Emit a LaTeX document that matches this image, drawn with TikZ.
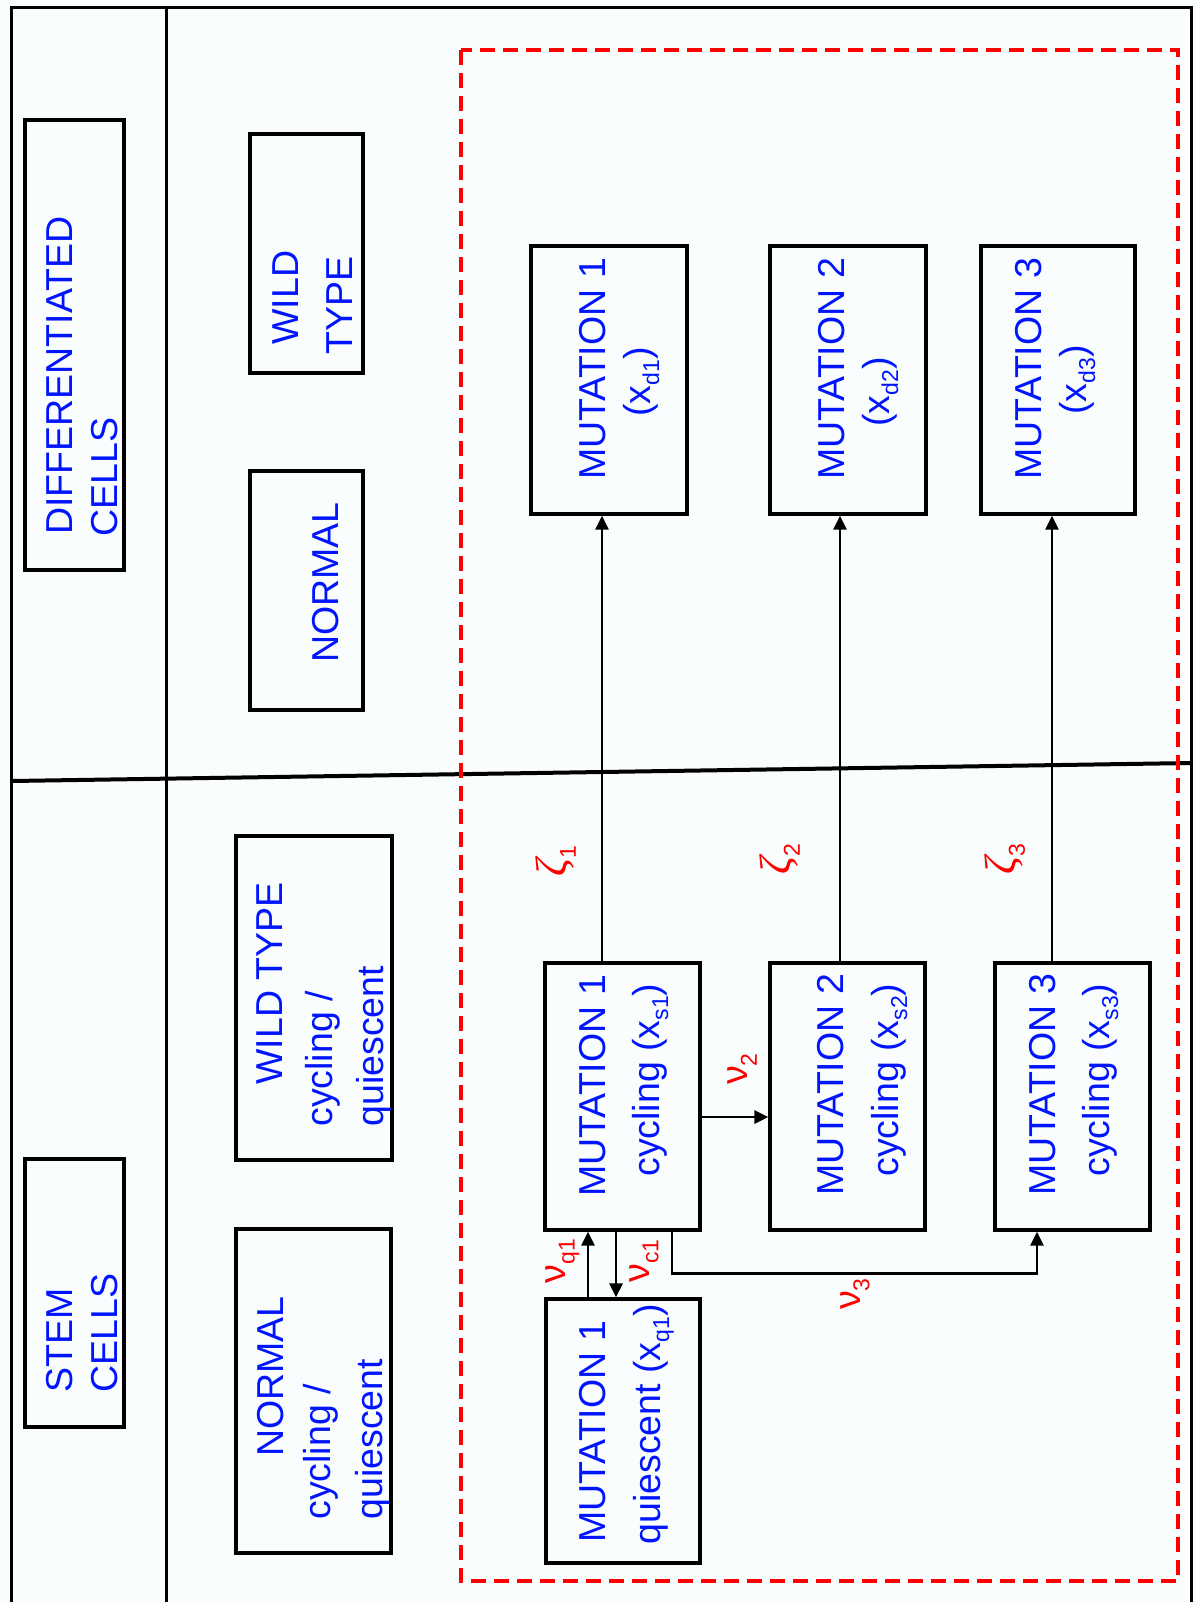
\documentclass[tikz,border=0pt]{standalone}
\usepackage{fontspec}
\setmainfont{Liberation Sans}
\newfontfamily\zetafont{Liberation Serif}
\usetikzlibrary{arrows.meta}
\definecolor{bg}{RGB}{250,253,253}
\definecolor{txtblue}{RGB}{0,20,255}
\newcommand\subtxt[1]{\raisebox{-4.5pt}{\fontsize{11.5pt}{12pt}\selectfont #1}}
\begin{document}
\begin{tikzpicture}[x=0.5pt,y=-0.5pt,
  box/.style={draw=black, line width=1.6pt, inner sep=0pt},
  txt/.style={rotate=90, anchor=base west, inner sep=0pt, text=txtblue, font=\fontsize{18.75pt}{22pt}\selectfont},
  lab/.style={rotate=90, anchor=center, inner sep=0pt, text=red, font=\fontsize{18.75pt}{22pt}\selectfont},
  zlab/.style={rotate=90, anchor=center, inner sep=0pt, text=red, font=\fontsize{22pt}{24pt}\selectfont},
  arr/.style={draw=black, line width=1.4pt, -{Triangle[length=7pt,width=6.5pt]}},
  frameline/.style={draw=black, line width=1.5pt}]
\fill[bg] (0,0) rectangle (1196,1602);
\useasboundingbox (0,0) rectangle (1196,1602);
% frame
\draw[frameline] (11.5,1602) -- (11.5,7.5) -- (1191.5,7.5) -- (1191.5,1602);
\draw[frameline] (166,7.5) -- (166,1602);
\draw[black, line width=2pt] (11.5,781) -- (1191.5,763);
% red dashed region
\draw[red, line width=1.7pt, dash pattern=on 7.5pt off 4pt] (461,50) rectangle (1178,1581);
% boxes
\node[box, minimum width=49.5pt, minimum height=225pt] (diffcells) at (74.5,345) {};
\node[box, minimum width=49.5pt, minimum height=134pt] (stemcells) at (74.5,1293) {};
\node[box, minimum width=56.5pt, minimum height=119.5pt] (wtd) at (306.5,253.5) {};
\node[box, minimum width=56.5pt, minimum height=119.5pt] (nord) at (306.5,590.5) {};
\node[box, minimum width=78pt, minimum height=134pt] (m1d) at (609,380) {};
\node[box, minimum width=78pt, minimum height=134pt] (m2d) at (848,380) {};
\node[box, minimum width=77pt, minimum height=134pt] (m3d) at (1058,380) {};
\node[box, minimum width=78pt, minimum height=162pt] (wts) at (314,998) {};
\node[box, minimum width=77.5pt, minimum height=162pt] (nors) at (313.5,1391) {};
\node[box, minimum width=77.5pt, minimum height=133.5pt] (m1s) at (622.5,1096.5) {};
\node[box, minimum width=77.5pt, minimum height=133.5pt] (m2s) at (847.5,1096.5) {};
\node[box, minimum width=77.5pt, minimum height=133.5pt] (m3s) at (1072.5,1096.5) {};
\node[box, minimum width=77pt, minimum height=132pt] (m1q) at (623,1431) {};
% texts
\node[txt] (tdiffa) at (72,535) {DIFFERENTIATED};
\node[txt] (tdiffb) at (117,537) {CELLS};
\node[txt] (tstema) at (72,1393) {STEM};
\node[txt] (tstemb) at (117,1393) {CELLS};
\node[txt] (twtda) at (298,345) {WILD};
\node[txt] (twtdb) at (352.5,355) {TYPE};
\node[txt] (tnord) at (338,663) {NORMAL};
\node[txt] (tmdaa) at (605,480) {MUTATION 1};
\node[txt] (tmdab) at (650,417) {(x\subtxt{d1})};
\node[txt] (tmdba) at (844,480) {MUTATION 2};
\node[txt] (tmdbb) at (889,427) {(x\subtxt{d2})};
\node[txt] (tmdca) at (1041,480) {MUTATION 3};
\node[txt] (tmdcb) at (1086,415) {(x\subtxt{d3})};
\node[txt] (twtsa) at (282,1085) {WILD TYPE};
\node[txt] (twtsb) at (332,1127) {cycling /};
\node[txt] (twtsc) at (383,1127) {quiescent};
\node[txt] (tnorsa) at (283,1457) {NORMAL};
\node[txt] (tnorsb) at (330,1520) {cycling /};
\node[txt] (tnorsc) at (382,1520) {quiescent};
\node[txt] (tmsaa) at (605,1197) {MUTATION 1};
\node[txt] (tmsab) at (659,1177) {cycling (x\subtxt{s1})};
\node[txt] (tmsba) at (843,1196) {MUTATION 2};
\node[txt] (tmsbb) at (898,1177) {cycling (x\subtxt{s2})};
\node[txt] (tmsca) at (1055,1196) {MUTATION 3};
\node[txt] (tmscb) at (1109,1177) {cycling (x\subtxt{s3})};
\node[txt] (tmqa) at (605,1543) {MUTATION 1};
\node[txt] (tmqb) at (660,1545) {quiescent (x\subtxt{q1})};
% connectors
\draw[arr] ([xshift=-10.25pt]m1s.north) -- ([xshift=-10.25pt]m1s.north |- m1d.south);
\draw[arr] ([xshift=-3.75pt]m2s.north) -- ([xshift=-3.75pt]m2s.north |- m2d.south);
\draw[arr] ([xshift=-10.25pt]m3s.north) -- ([xshift=-10.25pt]m3s.north |- m3d.south);
\draw[arr] ([yshift=-10.25pt]m1s.east) -- ([yshift=-10.25pt]m2s.west);
\draw[arr] ([xshift=-17.5pt]m1q.north) -- ([xshift=-17.5pt]m1q.north |- m1s.south);
\draw[arr] ([xshift=-3.25pt]m1s.south) -- ([xshift=-3.25pt]m1s.south |- m1q.north);
\draw[arr] ([xshift=24.75pt]m1s.south) -- ++(0,42) -| ([xshift=-17.75pt]m3s.south);
% labels
\node[zlab] (zeta1) at (556,861) {{\zetafont\itshape ζ}\subtxt{1}};
\node[zlab] (zeta2) at (780,859) {{\zetafont\itshape ζ}\subtxt{2}};
\node[zlab] (zeta3) at (1005,859) {{\zetafont\itshape ζ}\subtxt{3}};
\node[lab] (nu2) at (742.5,1069) {ν\subtxt{2}};
\node[lab] (nuq1) at (562.5,1261) {ν\subtxt{q1}};
\node[lab] (nuc1) at (644,1261) {ν\subtxt{c1}};
\node[lab] (nu3) at (855,1294) {ν\subtxt{3}};
\end{tikzpicture}
\end{document}
